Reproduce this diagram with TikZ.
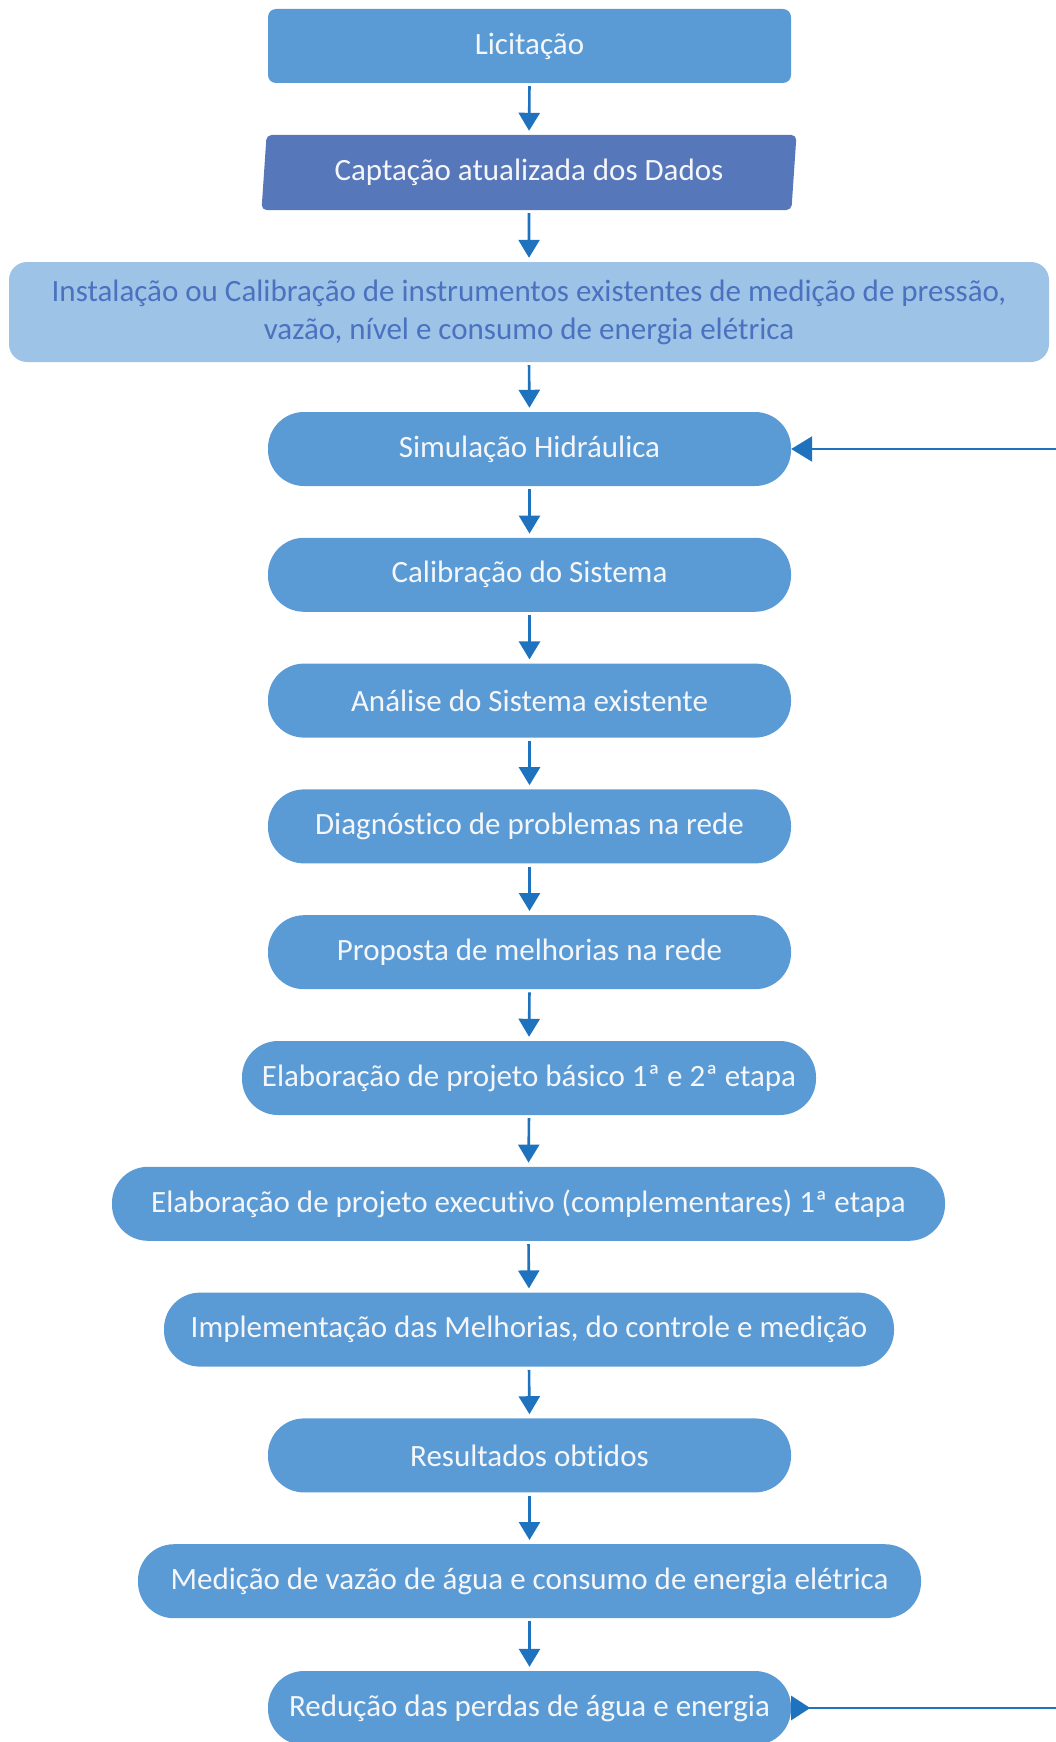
\documentclass[tikz,border=0pt]{standalone}
\usepackage{fontspec}
\setmainfont{Carlito}[Ligatures=NoCommon]
\usetikzlibrary{arrows.meta,shapes.geometric}

\definecolor{boxblue}{HTML}{5B9BD5}
\definecolor{capblue}{HTML}{5677BA}
\definecolor{paleblue}{HTML}{9DC3E6}
\definecolor{inktext}{HTML}{4A72C0}
\definecolor{linkblue}{HTML}{1F73BE}
\definecolor{softwhite}{HTML}{F4F6FA}

\tikzset{
  flowbox/.style={fill=boxblue, text=softwhite, inner sep=0pt,
    minimum height=74pt, rounded corners=36pt,
    font=\fontsize{31}{38}\selectfont},
  flowlink/.style={draw=linkblue, line width=2.6pt,
    -{Triangle[length=18pt,width=21pt]}, shorten <=3pt, shorten >=4pt},
  sidelink/.style={draw=linkblue, line width=2.4pt}
}

\begin{document}
\begin{tikzpicture}[x=1pt,y=-1pt]
\useasboundingbox (0,0) rectangle (1055,1742);

% opening steps
\node[flowbox, rounded corners=8pt, minimum width=523pt] (lic) at (529.5,46) {Licitação};
\node[flowbox, fill=capblue, trapezium, trapezium left angle=82, trapezium right angle=98,
      trapezium stretches=true, rounded corners=5pt, minimum width=536pt, minimum height=75pt]
      (cap) at (529,172.5) {Captação atualizada dos Dados};
\node[flowbox, fill=paleblue, text=inktext, rounded corners=18pt, minimum width=1040pt,
      minimum height=100pt, align=center] (inst) at (529,312)
      {Instalação ou Calibração de instrumentos existentes de medição de pressão,\\
       vazão, nível e consumo de energia elétrica};

% main chain
\node[flowbox, minimum width=523pt] (sim)  at (529.5,449)    {Simulação Hidráulica};
\node[flowbox, minimum width=523pt] (cal)  at (529.5,574.8)  {Calibração do Sistema};
\node[flowbox, minimum width=523pt] (ana)  at (529.5,700.6)  {Análise do Sistema existente};
\node[flowbox, minimum width=523pt] (diag) at (529.5,826.4)  {Diagnóstico de problemas na rede};
\node[flowbox, minimum width=523pt] (prop) at (529.5,952.2)  {Proposta de melhorias na rede};
\node[flowbox, minimum width=574pt] (bas)  at (529,1078)     {Elaboração de projeto básico 1ª e 2ª etapa};
\node[flowbox, minimum width=833pt] (exe)  at (528.5,1203.8) {Elaboração de projeto executivo (complementares) 1ª etapa};
\node[flowbox, minimum width=730pt] (imp)  at (529,1329.6)   {Implementação das Melhorias, do controle e medição};
\node[flowbox, minimum width=523pt] (res)  at (529.5,1455.4) {Resultados obtidos};
\node[flowbox, minimum width=783pt] (med)  at (529.5,1581.2) {Medição de vazão de água e consumo de energia elétrica};
\node[flowbox, minimum width=523pt] (red)  at (529.5,1708)   {Redução das perdas de água e energia};

% downward connectors
\foreach \a/\b in {lic/cap, cap/inst, inst/sim, sim/cal, cal/ana, ana/diag, diag/prop,
                   prop/bas, bas/exe, exe/imp, imp/res, res/med, med/red}
  \draw[flowlink] (\a.south) -- (\b.north);

% feedback connectors leaving at the right edge
\coordinate (backin)  at (1056,449);
\coordinate (backout) at (1056,1708);
\draw[sidelink, -{Triangle[length=21pt,width=25pt]}] (backin) -- (sim.east);
\draw[sidelink, {Triangle[reversed,length=19pt,width=24pt]}-] (red.east) -- (backout);
\end{tikzpicture}
\end{document}
